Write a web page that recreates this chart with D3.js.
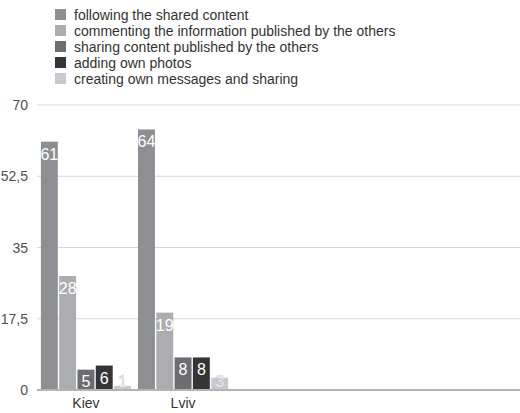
<!DOCTYPE html>
<html><head><meta charset="utf-8">
<script src="https://cdn.jsdelivr.net/npm/d3@7"></script>
<style>body{margin:0;background:#fff;}svg{display:block;font-family:"Liberation Sans","Helvetica Neue",Arial,sans-serif;}</style>
</head><body><svg id="c" width="520" height="413"></svg>
<script>
const categories = ["Kiev", "Lviv"];
const seriesNames = ["following the shared content", "commenting the information published by the others", "sharing content published by the others", "adding own photos", "creating own messages and sharing"];
const kievValues = [61, 28, 5, 6, 1];
const lvivValues = [64, 19, 8, 8, 3];
const tickValues = [0, 17.5, 35, 52.5, 70];
const tickLabels = ["0", "17,5", "35", "52,5", "70"];
const colors = ["#8e8f93", "#acadb0", "#6c6d71", "#353537", "#c6cad0"];

const valuesByCat = {Kiev: kievValues, Lviv: lvivValues};
const svg = d3.select("#c");
const y = d3.scaleLinear().domain([0, 70]).range([390, 105]);
const x0 = d3.scaleBand().domain(categories).range([37, 232]).paddingInner(0.072).paddingOuter(0.04);
const x1 = d3.scaleBand().domain(d3.range(seriesNames.length)).range([0, x0.bandwidth()]).paddingInner(0.075);

// grid
svg.append("g").selectAll("line").data(tickValues.filter(t => t > 0)).join("line")
  .attr("x1", 37).attr("x2", 520).attr("y1", d => y(d)).attr("y2", d => y(d))
  .attr("stroke", "#d6d6d6").attr("stroke-width", 1.2);
// y labels
svg.append("g").selectAll("text").data(tickValues).join("text")
  .attr("x", 28).attr("y", d => y(d) + 5).attr("text-anchor", "end")
  .attr("font-size", 14).attr("fill", "#505050").text((d, i) => tickLabels[i]);

// bars
const groups = svg.append("g").selectAll("g").data(categories).join("g")
  .attr("transform", d => `translate(${x0(d)},0)`);
groups.selectAll("rect").data(c => valuesByCat[c].map((v, i) => ({v, i}))).join("rect")
  .attr("x", d => x1(d.i)).attr("width", x1.bandwidth())
  .attr("y", d => y(d.v)).attr("height", d => y(0) - y(d.v))
  .attr("fill", d => colors[d.i]);
groups.selectAll("text").data(c => valuesByCat[c].map((v, i) => ({v, i}))).join("text")
  .attr("x", d => x1(d.i) + x1.bandwidth() / 2)
  .attr("y", d => Math.min(y(d.v) + 18, y(0) - 3))
  .attr("text-anchor", "middle").attr("font-size", 16)
  .attr("fill", "#fff")
  .attr("stroke", d => d.i === 4 ? "#c6cad0" : "none").attr("stroke-width", 0.6)
  .text(d => d.v);

// baseline
svg.append("line").attr("x1", 37).attr("x2", 520).attr("y1", y(0)).attr("y2", y(0))
  .attr("stroke", "#b3b3b3").attr("stroke-width", 2);

// x labels
svg.append("g").selectAll("text").data(categories).join("text")
  .attr("x", d => x0(d) + x0.bandwidth() / 2).attr("y", 408)
  .attr("text-anchor", "middle").attr("font-size", 14).attr("fill", "#333").text(d => d);

// legend
const leg = svg.append("g").selectAll("g").data(seriesNames).join("g")
  .attr("transform", (d, i) => `translate(55,${9 + i * 16})`);
leg.append("rect").attr("width", 11).attr("height", 11).attr("fill", (d, i) => colors[i]);
leg.append("text").attr("x", 19).attr("y", 10.5).attr("font-size", 14).attr("fill", "#333").text(d => d);
</script></body></html>
